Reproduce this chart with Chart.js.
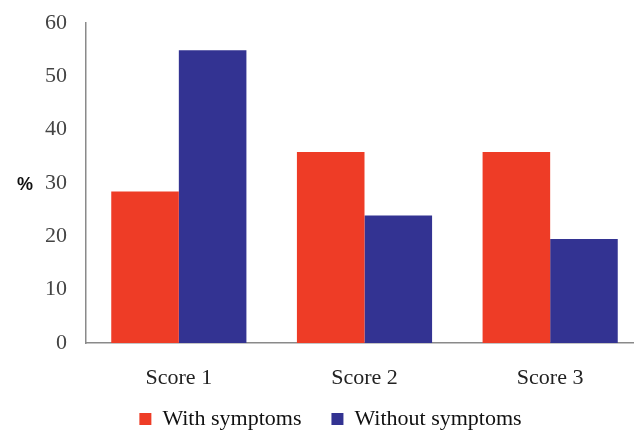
<!DOCTYPE html>
<html>
<head>
<meta charset="utf-8">
<script src="https://cdn.jsdelivr.net/npm/chart.js@4/dist/chart.umd.min.js"></script>
<style>
  html, body { margin: 0; padding: 0; background: #fff; overflow: hidden; }
  #wrap { position: relative; width: 645px; height: 460px; }
</style>
</head>
<body>
<div id="wrap"><canvas id="chart"></canvas></div>
<script>
    // ── Data ──
    const categories = ['Score 1', 'Score 2', 'Score 3'];
    const withSymptoms = [28.4, 35.8, 35.8];
    const withoutSymptoms = [54.9, 23.9, 19.5];
    const yTicks = [0, 10, 20, 30, 40, 50, 60];

    const serif = "'Liberation Serif', 'DejaVu Serif', serif";

    // "%" label on the left, level with 30
    const percentLabel = {
        id: 'percentLabel',
        afterDraw(chart) {
            const { ctx, scales } = chart;
            ctx.save();
            ctx.font = "bold 18px 'Liberation Sans', Arial, sans-serif";
            ctx.fillStyle = '#111';
            ctx.textAlign = 'left';
            ctx.textBaseline = 'middle';
            ctx.fillText('%', 17, scales.y.getPixelForValue(30) + 2);
            ctx.restore();
        }
    };

    // pull the legend row up closer to the category labels, a bit to the right
    const legendNudge = {
        id: 'legendNudge',
        afterLayout(chart) {
            const lg = chart.legend;
            if (!lg) return;
            lg.top -= 20; lg.bottom -= 20;
            lg.left += 9; lg.right += 9;
        }
    };

    new Chart(document.getElementById('chart'), {
        type: 'bar',
        data: {
            labels: categories,
            datasets: [
                { label: 'With symptoms', data: withSymptoms, backgroundColor: '#ee3c26', borderWidth: 0 },
                { label: 'Without symptoms', data: withoutSymptoms, backgroundColor: '#333392', borderWidth: 0 }
            ]
        },
        options: {
            responsive: true, maintainAspectRatio: false, animation: false,
            categoryPercentage: 0.728, barPercentage: 1,
            layout: { padding: { top: 23, right: 2, left: 0, bottom: 0 } },
            plugins: {
                legend: {
                    position: 'bottom',
                    labels: {
                        boxWidth: 12, boxHeight: 12, padding: 30, color: '#111',
                        font: { family: serif, size: 22 }
                    }
                },
                tooltip: { enabled: false }
            },
            scales: {
                x: {
                    grid: { display: false, drawTicks: false },
                    border: { color: '#8a8a8a', width: 1.5 },
                    ticks: { color: '#222', padding: 22, font: { family: serif, size: 22 } },
                    afterFit: s => { s.height = 55; s.paddingLeft = 0; s.paddingRight = 0; }
                },
                y: {
                    min: 0, max: 60,
                    afterBuildTicks: s => { s.ticks = yTicks.map(v => ({ value: v })); },
                    grid: { display: false, drawTicks: false },
                    border: { color: '#8a8a8a', width: 1.5 },
                    ticks: { color: '#444', padding: 19, font: { family: serif, size: 22 } },
                    afterFit: s => { s.width = 86; s.paddingTop = 0; s.paddingBottom = 0; }
                }
            }
        },
        plugins: [percentLabel, legendNudge]
    });
</script>
</body>
</html>
